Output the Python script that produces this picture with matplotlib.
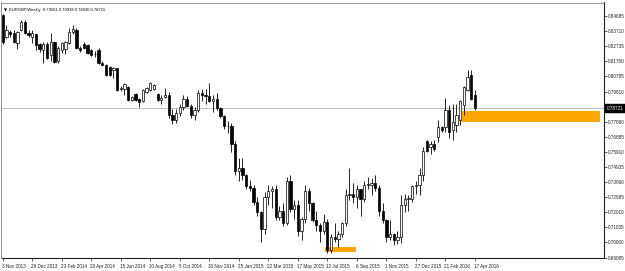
import matplotlib
matplotlib.use("Agg")
import matplotlib.pyplot as plt
from matplotlib.patches import Rectangle
import matplotlib.transforms as mtransforms

plt.rcParams["font.family"] = ["Liberation Sans", "DejaVu Sans"]

# ---------------- data (weekly EURGBP, week 0 = 3 Nov 2013) ----------------
opens = [0.8475, 0.8333, 0.8365, 0.8359, 0.8294, 0.8378, 0.8430, 0.8359, 0.8333, 0.8352,
         0.8288, 0.8249, 0.8288, 0.8217, 0.8301, 0.8178, 0.8249, 0.8256, 0.8294, 0.8365,
         0.8378, 0.8262, 0.8290, 0.8281, 0.8249, 0.8225, 0.8249, 0.8165, 0.8152, 0.8140,
         0.8120, 0.8130, 0.7995, 0.7995, 0.8010, 0.7926, 0.7965, 0.7930, 0.7920, 0.7980,
         0.7991, 0.7995, 0.7965, 0.7926, 0.7945, 0.7960, 0.7830, 0.7800, 0.7840, 0.7880,
         0.7930, 0.7890, 0.7830, 0.7860, 0.7970, 0.7960, 0.7955, 0.7920, 0.7930, 0.7875,
         0.7825, 0.7760, 0.7760, 0.7640, 0.7470, 0.7490, 0.7440, 0.7370, 0.7360, 0.7270,
         0.7200, 0.7090, 0.7300, 0.7340, 0.7350, 0.7170, 0.7210, 0.7130, 0.7400, 0.7220,
         0.7250, 0.7080, 0.7160, 0.7340, 0.7260, 0.7150, 0.7120, 0.7080, 0.7140, 0.6960,
         0.7040, 0.7030, 0.7060, 0.7130, 0.7310, 0.7320, 0.7300, 0.7350, 0.7290, 0.7380,
         0.7380, 0.7390, 0.7360, 0.7210, 0.7150, 0.7040, 0.7060, 0.7020, 0.7040, 0.7250,
         0.7290, 0.7290, 0.7370, 0.7380, 0.7440, 0.7660, 0.7620, 0.7640, 0.7687, 0.7752,
         0.7752, 0.7861, 0.7732, 0.7764, 0.7797, 0.7894, 0.7990, 0.8087, 0.79561]
highs = [0.8480, 0.8410, 0.8380, 0.8378, 0.8372, 0.8443, 0.8443, 0.8378, 0.8378, 0.8360,
         0.8295, 0.8300, 0.8300, 0.8359, 0.8310, 0.8275, 0.8300, 0.8310, 0.8390, 0.8410,
         0.8390, 0.8275, 0.8300, 0.8285, 0.8255, 0.8240, 0.8262, 0.8175, 0.8160, 0.8145,
         0.8140, 0.8135, 0.8015, 0.8035, 0.8015, 0.7950, 0.7970, 0.7940, 0.7995, 0.8010,
         0.8045, 0.8030, 0.7970, 0.7960, 0.8005, 0.7975, 0.7870, 0.7870, 0.7900, 0.7960,
         0.7950, 0.7900, 0.7880, 0.7990, 0.8000, 0.8000, 0.8035, 0.7960, 0.7970, 0.7880,
         0.7830, 0.7790, 0.7775, 0.7660, 0.7550, 0.7550, 0.7450, 0.7410, 0.7380, 0.7300,
         0.7210, 0.7330, 0.7380, 0.7370, 0.7380, 0.7240, 0.7260, 0.7430, 0.7440, 0.7280,
         0.7280, 0.7170, 0.7380, 0.7360, 0.7270, 0.7210, 0.7130, 0.7190, 0.7160, 0.7060,
         0.7130, 0.7080, 0.7140, 0.7350, 0.7490, 0.7390, 0.7380, 0.7350, 0.7400, 0.7430,
         0.7420, 0.7440, 0.7380, 0.7260, 0.7160, 0.7150, 0.7070, 0.7080, 0.7310, 0.7320,
         0.7310, 0.7380, 0.7400, 0.7490, 0.7620, 0.7670, 0.7660, 0.7670, 0.7797, 0.7760,
         0.7940, 0.7894, 0.7900, 0.7900, 0.7926, 0.8015, 0.8120, 0.8117, 0.79928]
lows = [0.8290, 0.8327, 0.8330, 0.8294, 0.8255, 0.8372, 0.8350, 0.8330, 0.8294, 0.8249,
        0.8235, 0.8165, 0.8190, 0.8178, 0.8165, 0.8165, 0.8230, 0.8220, 0.8285, 0.8355,
        0.8255, 0.8235, 0.8255, 0.8225, 0.8210, 0.8205, 0.8160, 0.8145, 0.8080, 0.8080,
        0.8065, 0.7985, 0.7985, 0.7958, 0.7920, 0.7920, 0.7920, 0.7880, 0.7915, 0.7970,
        0.7985, 0.7990, 0.7920, 0.7900, 0.7940, 0.7810, 0.7770, 0.7780, 0.7820, 0.7860,
        0.7880, 0.7810, 0.7795, 0.7850, 0.7920, 0.7900, 0.7910, 0.7850, 0.7860, 0.7810,
        0.7740, 0.7710, 0.7590, 0.7440, 0.7400, 0.7410, 0.7350, 0.7340, 0.7250, 0.7180,
        0.7010, 0.7060, 0.7250, 0.7230, 0.7150, 0.7150, 0.7110, 0.7120, 0.7200, 0.7160,
        0.7050, 0.7020, 0.7130, 0.7210, 0.7140, 0.7080, 0.7010, 0.7060, 0.6940, 0.6936,
        0.7010, 0.6980, 0.7040, 0.7110, 0.7280, 0.7260, 0.7230, 0.7180, 0.7270, 0.7350,
        0.7310, 0.7340, 0.7180, 0.7130, 0.7010, 0.7020, 0.6990, 0.6995, 0.7000, 0.7200,
        0.7210, 0.7270, 0.7320, 0.7310, 0.7400, 0.7590, 0.7580, 0.7600, 0.7655, 0.7720,
        0.7720, 0.7680, 0.7668, 0.7720, 0.7764, 0.7829, 0.7985, 0.7926, 0.78630]
closes = [0.8301, 0.8378, 0.8355, 0.8301, 0.8365, 0.8430, 0.8359, 0.8346, 0.8359, 0.8281,
          0.8256, 0.8288, 0.8197, 0.8301, 0.8172, 0.8262, 0.8294, 0.8301, 0.8365, 0.8385,
          0.8262, 0.8249, 0.8262, 0.8230, 0.8217, 0.8220, 0.8165, 0.8152, 0.8088, 0.8088,
          0.8130, 0.7991, 0.8005, 0.8027, 0.7926, 0.7945, 0.7926, 0.7915, 0.7991, 0.8005,
          0.8035, 0.8023, 0.7926, 0.7940, 0.7960, 0.7830, 0.7800, 0.7840, 0.7880, 0.7930,
          0.7890, 0.7830, 0.7860, 0.7970, 0.7960, 0.7955, 0.7920, 0.7930, 0.7875, 0.7825,
          0.7760, 0.7760, 0.7640, 0.7470, 0.7490, 0.7440, 0.7370, 0.7360, 0.7270, 0.7200,
          0.7090, 0.7300, 0.7340, 0.7350, 0.7170, 0.7210, 0.7130, 0.7400, 0.7220, 0.7250,
          0.7080, 0.7160, 0.7340, 0.7260, 0.7150, 0.7120, 0.7080, 0.7140, 0.6960, 0.7040,
          0.7030, 0.7060, 0.7130, 0.7310, 0.7320, 0.7300, 0.7350, 0.7290, 0.7380, 0.7380,
          0.7390, 0.7360, 0.7210, 0.7150, 0.7040, 0.7060, 0.7020, 0.7040, 0.7250, 0.7290,
          0.7290, 0.7370, 0.7380, 0.7440, 0.7600, 0.7600, 0.7640, 0.7610, 0.7752, 0.7730,
          0.7861, 0.7720, 0.7784, 0.7829, 0.7920, 0.8010, 0.8075, 0.7932, 0.78721]

date_tick_weeks = [0, 8, 16, 24, 32, 40, 48, 56, 64, 72, 80, 88, 96, 104, 112, 120, 128]
date_tick_labels = ["3 Nov 2013", "29 Dec 2013", "23 Feb 2014", "20 Apr 2014", "15 Jun 2014",
                    "10 Aug 2014", "5 Oct 2014", "30 Nov 2014", "25 Jan 2015", "22 Mar 2015",
                    "17 May 2015", "12 Jul 2015", "6 Sep 2015", "1 Nov 2015", "27 Dec 2015",
                    "21 Feb 2016", "17 Apr 2016"]
price_ticks = [0.84685, 0.83710, 0.82735, 0.81760, 0.80785, 0.79810, 0.78835, 0.77860,
               0.76885, 0.75910, 0.74935, 0.73960, 0.72985, 0.72010, 0.71035, 0.70060, 0.69085]
price_tick_labels = ["0.84685", "0.83710", "0.82735", "0.81760", "0.80785", "0.79810", "",
                     "0.77860", "0.76885", "0.75910", "0.74935", "0.73960", "0.72985",
                     "0.72010", "0.71035", "0.70060", "0.69085"]
current_price = 0.78721
header = "EURGBP,Weekly  0.79561 0.79928 0.78630 0.78721"
# zones: (start week, end week, low price, high price)
zone_starts = [124.5, 87.4]
zone_ends = [161.9, 95.7]
zone_lows = [0.7787, 0.6945]
zone_highs = [0.7852, 0.6977]

# ---------------- figure ----------------
W, H = 625, 271
fig = plt.figure(figsize=(W / 100, H / 100), dpi=100)
ax = fig.add_axes([1.5 / W, 1 - 258 / H, (604 - 1.5) / W, (258 - 2.5) / H])
ax.set_facecolor("white")

x = list(range(len(opens)))
ax.set_xlim(-0.33, 163.0)
ax.set_ylim(0.69059, 0.85557)

# zones
for s, e, lo, hi in zip(zone_starts, zone_ends, zone_lows, zone_highs):
    ax.add_patch(Rectangle((s, lo), e - s, hi - lo, facecolor="#FFA500",
                           edgecolor="none", zorder=1))

# current price line
ax.axhline(current_price, color="#b4b4b4", lw=0.6, zorder=0.5)

# candles
ax.vlines(x, lows, highs, color="black", lw=0.6, zorder=2)
bottoms = [min(o, c) for o, c in zip(opens, closes)]
heights = [max(abs(c - o), 0.00008) for o, c in zip(opens, closes)]
fills = ["white" if c >= o else "black" for o, c in zip(opens, closes)]
ax.bar(x, heights, bottom=bottoms, width=0.62, color=fills, edgecolor="black",
       linewidth=0.5, zorder=3)

# axes styling
for side in ["left", "top"]:
    ax.spines[side].set_color("#808080")
    ax.spines[side].set_linewidth(0.6)
for side in ["right", "bottom"]:
    ax.spines[side].set_color("#202020")
    ax.spines[side].set_linewidth(0.8)

FS = 3.3
ax.yaxis.tick_right()
ax.set_yticks(price_ticks)
ax.set_yticklabels(price_tick_labels)
ax.tick_params(axis="y", which="both", length=2, width=0.5, pad=0.8,
               labelsize=FS, colors="#202020")

ax.set_xticks(date_tick_weeks)
ax.set_xticklabels(date_tick_labels, ha="left")
ax.tick_params(axis="x", which="both", length=2, width=0.5, pad=2.0,
               labelsize=FS, colors="#202020")
offset = mtransforms.ScaledTranslation(-1.0 / 100, 0, fig.dpi_scale_trans)
for lbl in ax.get_xticklabels():
    lbl.set_transform(lbl.get_transform() + offset)

# current price label
trans = mtransforms.blended_transform_factory(ax.transAxes, ax.transData)
ax.text(1.004, current_price, f"{current_price:.5f}", transform=trans,
        fontsize=FS, color="white", va="center", ha="left",
        bbox=dict(boxstyle="square,pad=0.3", facecolor="black", edgecolor="black"),
        zorder=10, clip_on=False)

# header
ax.text(0.004, 0.978, "\u25BC", transform=ax.transAxes, fontsize=3.0,
        va="top", ha="left", color="black", family="DejaVu Sans")
ax.text(0.013, 0.98, header, transform=ax.transAxes, fontsize=3.0,
        va="top", ha="left", color="black")

fig.savefig("out.png", dpi=100, facecolor="white")
